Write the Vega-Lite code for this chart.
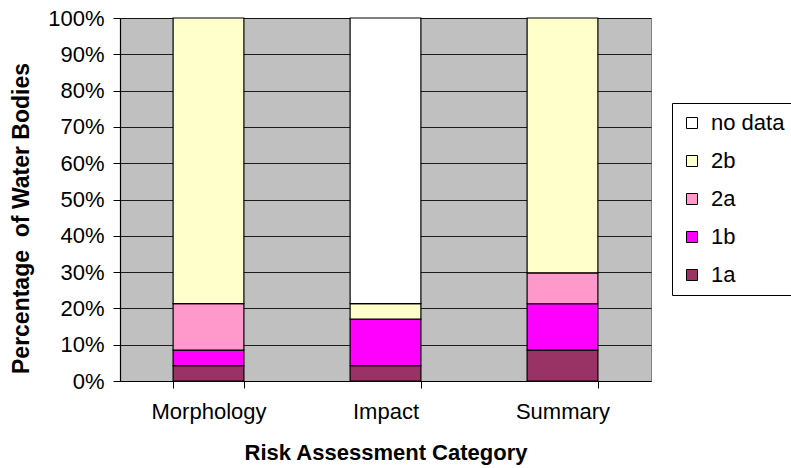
{
  "$schema": "https://vega.github.io/schema/vega-lite/v6.json",
  "autosize": {"type": "none"},
  "padding": {"left": 120, "top": 18, "right": 140, "bottom": 87},
  "width": 531,
  "height": 363,
  "background": "white",
  "config": {
    "font": "Liberation Sans",
    "view": {"fill": "#C0C0C0", "stroke": "#808080", "strokeWidth": 1}
  },
  "data": {
    "values": [
      {"category": "Morphology", "risk": "1a", "k": 1, "pct": 4.26},
      {"category": "Morphology", "risk": "1b", "k": 2, "pct": 4.26},
      {"category": "Morphology", "risk": "2a", "k": 3, "pct": 12.77},
      {"category": "Morphology", "risk": "2b", "k": 4, "pct": 78.71},
      {"category": "Morphology", "risk": "no data", "k": 5, "pct": 0},
      {"category": "Impact", "risk": "1a", "k": 1, "pct": 4.26},
      {"category": "Impact", "risk": "1b", "k": 2, "pct": 12.77},
      {"category": "Impact", "risk": "2a", "k": 3, "pct": 0},
      {"category": "Impact", "risk": "2b", "k": 4, "pct": 4.26},
      {"category": "Impact", "risk": "no data", "k": 5, "pct": 78.71},
      {"category": "Summary", "risk": "1a", "k": 1, "pct": 8.51},
      {"category": "Summary", "risk": "1b", "k": 2, "pct": 12.77},
      {"category": "Summary", "risk": "2a", "k": 3, "pct": 8.51},
      {"category": "Summary", "risk": "2b", "k": 4, "pct": 70.21},
      {"category": "Summary", "risk": "no data", "k": 5, "pct": 0}
    ]
  },
  "transform": [{"filter": "datum.pct > 0"}],
  "mark": {"type": "bar", "stroke": "#000000", "strokeWidth": 1.2},
  "encoding": {
    "x": {
      "field": "category",
      "type": "nominal",
      "sort": ["Morphology", "Impact", "Summary"],
      "scale": {"paddingInner": 0.6, "paddingOuter": 0.3},
      "axis": {
        "title": "Risk Assessment Category",
        "titleFontSize": 22,
        "titleFontWeight": "bold",
        "titleColor": "#000000",
        "titleBaseline": "alphabetic",
        "titleY": 78,
        "labelAngle": 0,
        "labelFontSize": 22,
        "labelColor": "#000000",
        "labelPadding": 13,
        "tickBand": "extent",
        "tickSize": 7,
        "tickColor": "#000000",
        "domainColor": "#000000",
        "domainWidth": 1.2,
        "grid": false
      }
    },
    "y": {
      "field": "pct",
      "type": "quantitative",
      "stack": "zero",
      "scale": {"domain": [0, 100], "nice": false},
      "axis": {
        "title": "Percentage \u00a0of Water Bodies",
        "titleFontSize": 23,
        "titleFontWeight": "bold",
        "titleColor": "#000000",
        "titleX": -87,
        "titleY": 200,
        "values": [0, 10, 20, 30, 40, 50, 60, 70, 80, 90, 100],
        "labelExpr": "datum.value + '%'",
        "labelFontSize": 22,
        "labelColor": "#000000",
        "labelPadding": 9,
        "tickSize": 7,
        "tickColor": "#000000",
        "domainColor": "#000000",
        "domainWidth": 1.2,
        "grid": true,
        "gridColor": "#000000",
        "gridOpacity": 0.85,
        "gridWidth": 1
      }
    },
    "color": {
      "field": "risk",
      "type": "nominal",
      "scale": {
        "domain": ["no data", "2b", "2a", "1b", "1a"],
        "range": ["#FFFFFF", "#FFFFCC", "#FF99CC", "#FF00FF", "#993366"]
      },
      "legend": {
        "title": null,
        "orient": "none",
        "legendX": 552,
        "legendY": 85,
        "padding": 9,
        "strokeColor": "#000000",
        "fillColor": "#FFFFFF",
        "symbolType": "square",
        "symbolSize": 121,
        "symbolStrokeColor": "#000000",
        "symbolStrokeWidth": 1,
        "symbolOpacity": 1,
        "labelFontSize": 22,
        "labelColor": "#000000",
        "labelOffset": 8,
        "rowPadding": 16
      }
    },
    "order": {"field": "k", "type": "quantitative", "sort": "ascending"}
  }
}
